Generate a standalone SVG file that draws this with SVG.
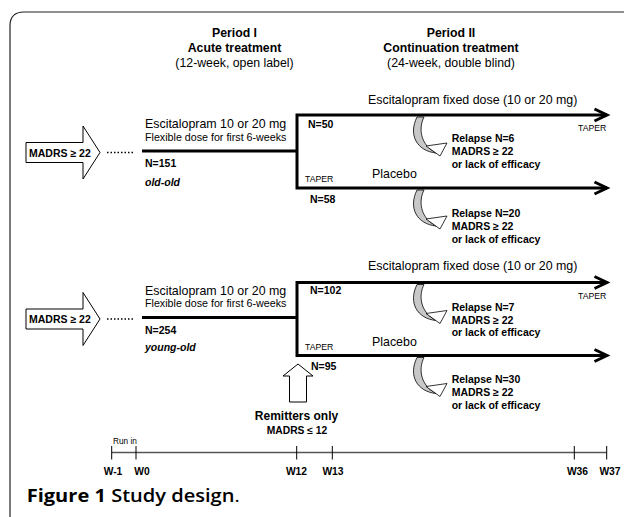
<svg xmlns="http://www.w3.org/2000/svg" xmlns:xlink="http://www.w3.org/1999/xlink" width="625" height="517" viewBox="0 0 625 517">
<style>
text{font-family:"Liberation Sans",Arial,sans-serif;fill:#000}
.hb{font-weight:bold;font-size:12.3px;text-anchor:middle}
.hr{font-size:12.3px;text-anchor:middle}
.lg{font-size:12.4px}
.sm{font-size:10.7px}
.b{font-weight:bold;font-size:10.5px}
.bi{font-weight:bold;font-style:italic;font-size:10.5px}
.tp{font-size:8.7px}
.w{font-weight:bold;font-size:10.3px;text-anchor:middle}
.ri{font-size:8.3px}
.cap{font-family:"Open Sans","Noto Sans",sans-serif;font-size:18px}
.thick{fill:none;stroke:#000;stroke-width:3;stroke-linejoin:miter}
.blk{fill:#fff;stroke:#000;stroke-width:1}
</style>
<defs>
<path id="chev" d="M-12.5,-6 L0,0 L-12.5,6" fill="none" stroke="#000" stroke-width="3" stroke-linejoin="miter"/>
<g id="crv">
<path d="M0,2 L7,2 C2,12 3,25 13,34 L19,38 C0,36 -9,20 0,2 Z" fill="#c8c8c8" stroke="#000" stroke-width="0.8"/>
<path d="M9,31 L30,28 L23,41 Z" fill="#fff" stroke="#000" stroke-width="0.8"/>
</g>
</defs>
<rect width="625" height="517" fill="#fff"/>
<path d="M10,517 V26 Q10,12 24,12 H624" fill="none" stroke="#222" stroke-width="1.2"/>

<g id="headers">
<text class="hb" x="234.5" y="37">Period I</text>
<text class="hb" x="234.5" y="52">Acute treatment</text>
<text class="hr" x="234.5" y="67">(12-week, open label)</text>
<text class="hb" x="451" y="37">Period II</text>
<text class="hb" x="451" y="52">Continuation treatment</text>
<text class="hr" x="451" y="67">(24-week, double blind)</text>
</g>

<g id="connectors">
<path class="thick" d="M142,151 H297 M607,115 H297 V188 H607"/>
<path class="thick" d="M142,317.5 H297 M607,282.5 H297 V355.5 H607"/>
<use xlink:href="#chev" x="607" y="115"/>
<use xlink:href="#chev" x="607" y="188"/>
<use xlink:href="#chev" x="607" y="282.5"/>
<use xlink:href="#chev" x="607" y="355.5"/>
<path d="M107,152.5 H133 M107,319 H133" stroke="#000" stroke-width="1.5" stroke-dasharray="1.5 2"/>
<use xlink:href="#crv" x="417" y="115"/>
<use xlink:href="#crv" x="417" y="188"/>
<use xlink:href="#crv" x="417" y="282.5"/>
<use xlink:href="#crv" x="417" y="355.5"/>
</g>

<g id="group-old-old">
<g id="madrs1">
<polygon class="blk" points="26,142.5 83,142.5 83,126 100,152.5 83,179 83,162.5 26,162.5"/>
<text class="b" x="29" y="156.5">MADRS ≥ 22</text>
</g>
<text class="lg" x="145" y="128">Escitalopram 10 or 20 mg</text>
<text class="sm" x="145" y="140.5">Flexible dose for first 6-weeks</text>
<text class="b" x="145" y="167">N=151</text>
<text class="bi" x="145" y="186">old-old</text>
<text class="lg" x="368" y="103.5">Escitalopram fixed dose (10 or 20 mg)</text>
<text class="b" x="308" y="127.5">N=50</text>
<text class="tp" x="578" y="131">TAPER</text>
<text class="tp" x="305" y="182">TAPER</text>
<text class="lg" x="372" y="178">Placebo</text>
<text class="b" x="310" y="202.5">N=58</text>
<text class="b" x="451.7" y="142">Relapse N=6</text>
<text class="b" x="451.7" y="155">MADRS ≥ 22</text>
<text class="b" x="451.7" y="167.5">or lack of efficacy</text>
<text class="b" x="451.7" y="217">Relapse N=20</text>
<text class="b" x="451.7" y="230">MADRS ≥ 22</text>
<text class="b" x="451.7" y="242.5">or lack of efficacy</text>
</g>

<g id="group-young-old">
<g id="madrs2">
<polygon class="blk" points="26,309 83,309 83,292.5 100,319 83,345.5 83,329 26,329"/>
<text class="b" x="29" y="323">MADRS ≥ 22</text>
</g>
<text class="lg" x="145" y="294.5">Escitalopram 10 or 20 mg</text>
<text class="sm" x="145" y="307">Flexible dose for first 6-weeks</text>
<text class="b" x="145" y="333.5">N=254</text>
<text class="bi" x="145" y="350.5">young-old</text>
<text class="lg" x="368" y="270">Escitalopram fixed dose (10 or 20 mg)</text>
<text class="b" x="310" y="294">N=102</text>
<text class="tp" x="578" y="298.5">TAPER</text>
<text class="tp" x="305" y="349.5">TAPER</text>
<text class="lg" x="372" y="345.5">Placebo</text>
<text class="b" x="311" y="369.5">N=95</text>
<text class="b" x="451.7" y="310.5">Relapse N=7</text>
<text class="b" x="451.7" y="323.5">MADRS ≥ 22</text>
<text class="b" x="451.7" y="336">or lack of efficacy</text>
<text class="b" x="451.7" y="383">Relapse N=30</text>
<text class="b" x="451.7" y="396">MADRS ≥ 22</text>
<text class="b" x="451.7" y="408.5">or lack of efficacy</text>
</g>

<g id="remitters">
<polygon class="blk" points="298,364 313,376 306.5,376 306.5,402 289.5,402 289.5,376 283,376"/>
<text class="hb" x="296.5" y="419.5" style="font-size:12px">Remitters only</text>
<text class="w" x="297" y="433.5">MADRS ≤ 12</text>
</g>

<g id="timeline">
<path d="M111.7,452.5 H606.7" stroke="#555" stroke-width="1.5"/>
<path d="M111.7,446 V459.5 M136,446 V459.5 M296.7,446 V459.5 M332.3,446 V459.5 M574.3,446 V459.5 M606.7,446 V459.5" stroke="#000" stroke-width="1"/>
<text class="ri" x="113" y="444">Run in</text>
<text class="w" x="113" y="475">W-1</text>
<text class="w" x="142" y="475">W0</text>
<text class="w" x="296.5" y="475">W12</text>
<text class="w" x="333" y="475">W13</text>
<text class="w" x="577.5" y="475">W36</text>
<text class="w" x="610" y="475">W37</text>
</g>

<text class="cap" x="26.7" y="502" textLength="213" lengthAdjust="spacingAndGlyphs"><tspan font-weight="bold">Figure 1</tspan><tspan font-weight="600"> Study design</tspan><tspan font-weight="normal">.</tspan></text>
</svg>
